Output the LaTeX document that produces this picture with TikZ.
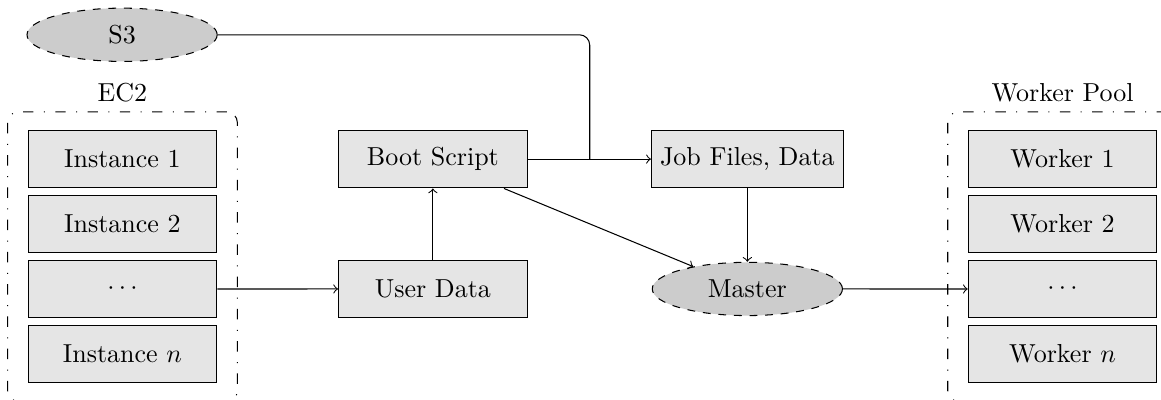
\documentclass[tikz,border=0pt]{standalone}
\usepackage{tikz}
\usepackage{xcolor}
\usetikzlibrary{positioning,fit,shapes.geometric}

\begin{document}
\begin{tikzpicture}[>=to]
    \pgfmathsetmacro{\h}{0.878}
    \tikzset{
        box/.style={draw, fill=gray!20, minimum width=2.55cm, minimum height=0.78cm},
        blob/.style={ellipse, draw, dashed, fill=gray!40, minimum width=2.57cm, minimum height=0.72cm},
        group/.style={draw, dash pattern=on 4pt off 4pt on \pgflinewidth off 4pt,
            rounded corners=4pt, inner xsep=0.27cm, inner ysep=0.24cm}
    }
    \useasboundingbox (0,0) rectangle (15.69,-5.405);
    \foreach \n/\a/\b in {1/Instance 1/Worker 1, 2/Instance 2/Worker 2,
                          3/$\cdots$/$\cdots$, 4/Instance $n$/Worker $n$}{
        \node[box] (inst\n) at (1.655,{-2.15-\h*(\n-1)}) {\a};
        \node[box] (work\n) at (14.36,{-2.15-\h*(\n-1)}) {\b};
    }
    \node[group, fit=(inst1)(inst4), label=above:EC2] (ec2) {};
    \node[group, fit=(work1)(work4), label=above:Worker Pool] (pool) {};

    \node[blob] (s3) at (1.65,-0.47) {S3};
    \node[box] (boot) at (5.85,-2.15) {Boot Script};
    \node[box] (user) at (5.85,-3.905) {User Data};
    \node[box] (job) at (10.1,-2.15) {Job Files, Data};
    \node[blob] (master) at (10.1,-3.905) {Master};
    \coordinate (join) at (7.97,-2.15);

    % connections
    \draw[->] (inst3) -- (user);
    \draw[->] (user) -- (boot);
    \draw[->] (boot) -- (job);
    \draw[rounded corners=4pt] (s3) -| (join);
    \draw[->] (job) -- (master);
    \draw[->] (boot) -- (master);
    \draw[->] (master) -- (work3);
\end{tikzpicture}
\end{document}
